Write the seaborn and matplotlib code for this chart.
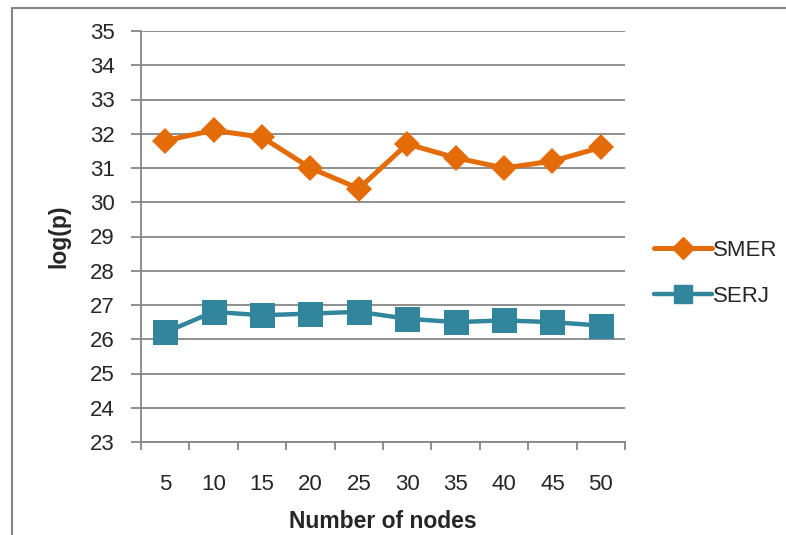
import numpy as np
import matplotlib
matplotlib.use("Agg")
import matplotlib.pyplot as plt
from matplotlib.lines import Line2D
import seaborn as sns
import pandas as pd

# chart data
nodes = [5, 10, 15, 20, 25, 30, 35, 40, 45, 50]
smer = [31.8, 32.1, 31.9, 31.0, 30.4, 31.7, 31.3, 31.0, 31.2, 31.6]
serj = [26.2, 26.8, 26.7, 26.75, 26.8, 26.6, 26.5, 26.55, 26.5, 26.4]
y_ticks = list(range(23, 36))

ORANGE = "#E36C09"
TEAL = "#31859C"
GREY = "#868686"

sns.set_theme(style="white")
plt.rcParams["font.family"] = ["Liberation Sans", "DejaVu Sans"]

df = pd.DataFrame({
    "pos": np.arange(len(nodes)),
    "SMER": smer,
    "SERJ": serj,
})

fig = plt.figure(figsize=(7.86, 5.35), dpi=100)
ax = fig.add_axes([141 / 786, 1 - 442 / 535, (625 - 141) / 786, (442 - 31) / 535])

sns.lineplot(data=df, x="pos", y="SMER", ax=ax, color=ORANGE, linewidth=3.6,
             marker="D", markersize=13, markeredgewidth=0, label="SMER")
sns.lineplot(data=df, x="pos", y="SERJ", ax=ax, color=TEAL, linewidth=3.2,
             marker="s", markersize=18, markeredgewidth=0, label="SERJ")

ax.set_xlim(-0.5, len(nodes) - 0.5)
ax.set_ylim(23, 35)
ax.set_yticks(y_ticks)
ax.set_yticklabels([str(v) for v in y_ticks], fontsize=16)
ax.yaxis.grid(True, color=GREY, linewidth=1.3)
ax.set_axisbelow(True)

# category ticks between groups, labels centred
ax.set_xticks(np.arange(len(nodes) + 1) - 0.5)
ax.set_xticklabels([])
ax.set_xticks(np.arange(len(nodes)), minor=True)
ax.set_xticklabels([str(n) for n in nodes], minor=True, fontsize=16)
ax.tick_params(axis="x", which="major", direction="out", length=6, width=1.3,
               color=GREY, bottom=True)
ax.tick_params(axis="x", which="minor", length=0, pad=23)
ax.tick_params(axis="y", direction="out", length=7, width=1.3, color=GREY,
               left=True, pad=12)

for side in ["top", "right"]:
    ax.spines[side].set_visible(False)
for side in ["left", "bottom"]:
    ax.spines[side].set_color(GREY)
    ax.spines[side].set_linewidth(1.3)

ax.set_xlabel("Number of nodes", fontsize=16.5, fontweight="bold", labelpad=11)
ax.set_ylabel("log(p)", fontsize=16.5, fontweight="bold", labelpad=14)

handles = [
    Line2D([], [], color=ORANGE, linewidth=3.6, marker="D", markersize=11),
    Line2D([], [], color=TEAL, linewidth=3.2, marker="s", markersize=13),
]
ax.legend(handles, ["SMER", "SERJ"], loc="center left",
          bbox_to_anchor=(1.019, 0.41), frameon=False, fontsize=16,
          handlelength=2.6, handletextpad=0.05, labelspacing=1.1)

# outer chart frame
fig.add_artist(Line2D([12 / 786, 12 / 786], [0, 1 - 8 / 535],
                      color=GREY, linewidth=1.5))
fig.add_artist(Line2D([12 / 786, 1], [1 - 8 / 535, 1 - 8 / 535],
                      color=GREY, linewidth=1.5))

fig.savefig("out.png", dpi=100)
